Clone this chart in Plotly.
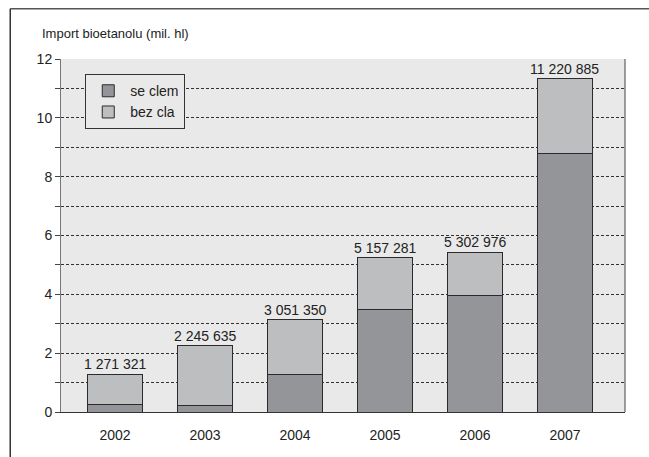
import plotly.graph_objects as go

years = ["2002", "2003", "2004", "2005", "2006", "2007"]
se_clem = [0.27, 0.23, 1.28, 3.49, 3.97, 8.78]
bez_cla = [1.02, 2.03, 1.86, 1.75, 1.46, 2.55]
total_labels = ["1 271 321", "2 245 635", "3 051 350", "5 157 281", "5 302 976", "11 220 885"]
y_ticks = list(range(0, 13))
y_ticktext = [str(v) if v % 2 == 0 else "" for v in y_ticks]

FONT = "Liberation Sans, Arial, sans-serif"
xpos = list(range(len(years)))
totals = [a + b for a, b in zip(se_clem, bez_cla)]

fig = go.Figure()
fig.add_trace(go.Bar(x=xpos, y=se_clem, name="se clem", width=0.62, legendgroup="a",
                     marker=dict(color="#939598", line=dict(color="#2b2b2b", width=1))))
fig.add_trace(go.Bar(x=xpos, y=bez_cla, name="bez cla", width=0.62, legendgroup="b",
                     marker=dict(color="#bdbec0", line=dict(color="#2b2b2b", width=1))))

for xi, t, lab in zip(xpos, totals, total_labels):
    fig.add_annotation(x=xi, y=t, text=lab, showarrow=False, yanchor="bottom",
                       yshift=0, font=dict(family=FONT, size=14, color="#222"))

fig.update_layout(
    width=649, height=457,
    margin=dict(l=61, r=24, t=59, b=45),
    barmode="stack",
    paper_bgcolor="white",
    plot_bgcolor="#e9e9e9",
    font=dict(family=FONT, size=14, color="#222"),
    showlegend=True,
    legend=dict(x=0.043, y=0.957, xanchor="left", yanchor="top",
                bgcolor="#e9e9e9", bordercolor="#333", borderwidth=1,
                traceorder="normal", tracegroupgap=9, itemwidth=34,
                font=dict(family=FONT, size=14, color="#222")),
    xaxis=dict(tickmode="array", tickvals=xpos, ticktext=years, range=[-0.6, 5.667],
               showgrid=False, showline=True, linecolor="#333", linewidth=1,
               ticks="", zeroline=False, tickfont=dict(size=14), ticklabelstandoff=10),
    yaxis=dict(range=[0, 12], tickmode="array", tickvals=y_ticks, ticktext=y_ticktext,
               showgrid=True, gridcolor="#333", gridwidth=1, griddash="3px,2px",
               showline=True, linecolor="#777", linewidth=1, ticks="outside",
               ticklen=5, tickcolor="#444", zeroline=False, tickfont=dict(size=14)),
)

# right border of plot area
fig.add_shape(type="line", xref="paper", yref="paper", x0=1, x1=1, y0=0, y1=1,
              line=dict(color="#444", width=1))
# outer frame (top and left)
fig.add_shape(type="line", xref="paper", yref="paper", x0=-0.090, x1=1.05, y0=1.142, y1=1.142,
              line=dict(color="#555", width=1.5))
fig.add_shape(type="line", xref="paper", yref="paper", x0=-0.090, x1=-0.090, y0=1.142, y1=-0.14,
              line=dict(color="#333", width=1.5))

fig.add_annotation(xref="paper", yref="paper", x=-0.037, y=1.045, xanchor="left", yanchor="bottom",
                   text="Import bioetanolu (mil. hl)", showarrow=False,
                   font=dict(family=FONT, size=13, color="#222"))

fig.write_html("out.html", config={"displayModeBar": False},
               post_script="document.body.style.margin='0';")
